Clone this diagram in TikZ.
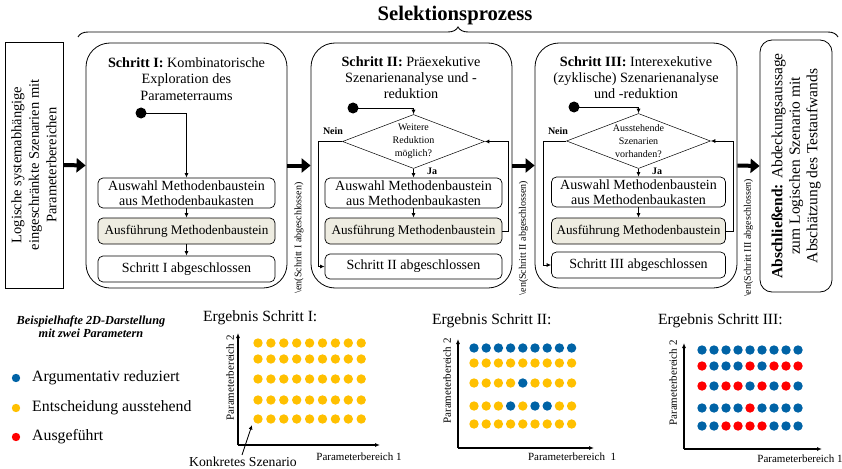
\documentclass[tikz,border=0pt]{standalone}
\usepackage{fontspec}
\setmainfont{Liberation Serif}
\usetikzlibrary{arrows.meta,shapes.geometric,decorations.pathreplacing,calc}

\definecolor{dotblue}{RGB}{0,99,166}
\definecolor{dotyellow}{RGB}{255,192,0}
\definecolor{dotred}{RGB}{255,0,0}
\definecolor{execfill}{RGB}{238,236,225}

\tikzset{
  stepframe/.style={draw, line width=0.8pt, rounded corners=24pt,
    minimum width=201pt, minimum height=245pt, inner sep=0pt},
  procbox/.style={draw, line width=0.7pt, rounded corners=5pt, align=center,
    inner sep=0pt, font=\fontsize{14}{14.5}\selectfont},
  execbox/.style={procbox, fill=execfill, font=\fontsize{13.2}{13.5}\selectfont},
  decision/.style={draw, line width=0.5pt, shape=diamond, inner sep=0pt,
    minimum width=142pt, minimum height=54pt},
  dectext/.style={align=center, inner sep=0pt, font=\fontsize{10}{13}\selectfont},
  flow/.style={line width=0.8pt, -{Latex[length=4.5pt,width=4pt]}},
  bigarrow/.style={line width=4pt, -{Triangle[length=9pt,width=14pt]}},
  sidelabel/.style={rotate=90, inner sep=0pt, font=\fontsize{10}{10}\selectfont},
  branch/.style={inner sep=0pt, font=\fontsize{10}{10}\selectfont\bfseries},
  steptitle/.style={align=center, inner sep=0pt, font=\fontsize{14.2}{16.2}\selectfont},
  axis/.style={line width=1.1pt, -{Latex[length=5pt,width=4pt]}},
  axislabel/.style={inner sep=0pt, font=\fontsize{11}{11}\selectfont},
  plottitle/.style={inner sep=0pt, anchor=west, font=\fontsize{15.6}{15.6}\selectfont},
  legendtext/.style={inner sep=0pt, anchor=west, font=\fontsize{15.8}{15.8}\selectfont},
}

\begin{document}
\begin{tikzpicture}[x=1pt,y=-1pt]
\useasboundingbox (0,0) rectangle (842,468);

% ---------- heading and brace ----------
\node[inner sep=0pt, font=\fontsize{20.7}{20.7}\selectfont\bfseries] (head) at (455,16) {Selektionsprozess};
\coordinate (braceL) at (78,37);
\coordinate (braceR) at (838,37);
\draw[line width=0.9pt, decorate, decoration={brace, amplitude=10pt}] (braceL) -- (braceR);

% ---------- input and output boxes ----------
\node[draw, line width=0.8pt, minimum width=58pt, minimum height=246pt, inner sep=0pt] (lb) at (34,165) {};
\node[rotate=90, align=center, inner sep=0pt, font=\fontsize{14.5}{17.5}\selectfont] (lbt) at (lb.center)
  {Logische systemabhängige\\eingeschränkte Szenarien mit\\Parameterbereichen};

\node[draw, line width=0.8pt, rounded corners=12pt, minimum width=72pt, minimum height=252pt, inner sep=0pt] (rb) at (796,166) {};
\node[rotate=90, align=center, inner sep=0pt, font=\fontsize{15.5}{17.5}\selectfont] (rbt) at (rb.center)
  {\textbf{Abschließend:} Abdeckungsaussage\\zum Logischen Szenario mit\\Abschätzung des Testaufwands};

% ---------- step frames ----------
\node[stepframe] (s1) at (186.5,165.5) {};
\node[stepframe] (s2) at (411.5,165.5) {};
\node[stepframe, minimum width=202pt] (s3) at (636,165.5) {};

\node[steptitle] (t1) at (186.5,79) {\textbf{Schritt I:} Kombinatorische\\Exploration des\\Parameterraums};
\node[steptitle] (t2) at (411,77.5) {\textbf{Schritt II:} Präexekutive\\Szenarienanalyse und -\\reduktion};
\node[steptitle] (t3) at (636,77.5) {\textbf{Schritt III:} Interexekutive\\(zyklische) Szenarienanalyse\\und -reduktion};

% ---------- step I ----------
\node[procbox, minimum width=177pt, minimum height=30pt] (a1) at (186.5,193) {Auswahl Methodenbaustein\\aus Methodenbaukasten};
\node[execbox, minimum width=177pt, minimum height=26pt] (e1) at (186.5,231) {Ausführung Methodenbaustein};
\node[procbox, minimum width=177pt, minimum height=26pt] (f1) at (186.5,269) {Schritt I abgeschlossen};
\coordinate (st1) at (141,113);
\fill (st1) circle (5.5pt);
\draw[flow] (st1) -| (a1.north);
\draw[flow] (a1) -- (e1);
\draw[flow] (e1) -- (f1);

% ---------- step II ----------
\node[decision] (d2) at (413.5,141.5) {};
\node[dectext] (d2t) at (d2.center) {Weitere\\Reduktion\\möglich?};
\node[procbox, minimum width=177pt, minimum height=30pt] (a2) at (413.5,193) {Auswahl Methodenbaustein\\aus Methodenbaukasten};
\node[execbox, minimum width=177pt, minimum height=26pt] (e2) at (413.5,231) {Ausführung Methodenbaustein};
\node[procbox, minimum width=177pt, minimum height=25pt] (f2) at (413.5,266.5) {Schritt II abgeschlossen};
\coordinate (st2) at (353,108);
\fill (st2) circle (5.5pt);
\draw[flow] (st2) -| (d2.north);
\draw[flow] (d2.south) -- (a2.north);
\draw[flow] (a2) -- (e2);
\draw[flow] (d2.west) -- ++(-24,0) |- (f2.west);
\draw[flow] (e2.east) -- ++(6,0) |- (d2.east);
\node[branch] (n2) at (333,131) {Nein};
\node[branch] (j2) at (432,171) {Ja};

% ---------- step III ----------
\node[decision, minimum width=144pt, minimum height=55pt] (d3) at (638.5,141) {};
\node[dectext] (d3t) at (d3.center) {Ausstehende\\Szenarien\\vorhanden?};
\node[procbox, minimum width=174pt, minimum height=30pt] (a3) at (638.5,192) {Auswahl Methodenbaustein\\aus Methodenbaukasten};
\node[execbox, minimum width=174pt, minimum height=26pt] (e3) at (638.5,231) {Ausführung Methodenbaustein};
\node[procbox, minimum width=174pt, minimum height=26pt] (f3) at (638.5,265) {Schritt III abgeschlossen};
\coordinate (st3) at (574,107);
\fill (st3) circle (5.5pt);
\draw[flow] (st3) -| (d3.north);
\draw[flow] (d3.south) -- (a3.north);
\draw[flow] (a3) -- (e3);
\draw[flow] (d3.west) -- ++(-23,0) |- (f3.west);
\draw[flow] (e3.east) -- ++(8,0) |- (d3.east);
\node[branch] (n3) at (558,131) {Nein};
\node[branch] (j3) at (657,171) {Ja};

% ---------- transitions between stages ----------
\draw[bigarrow] (lb.east) -- (s1.west);
\draw[bigarrow] (s1.east) -- (s2.west);
\draw[bigarrow] (s2.east) -- (s3.west);
\draw[bigarrow] (s3.east) -- (rb.west);
\node[sidelabel] (g1) at (299,238) {\textbackslash en(Schritt I abgeschlossen)};
\node[sidelabel] (g2) at (523.5,238) {\textbackslash en(Schritt II abgeschlossen)};
\node[sidelabel] (g3) at (748.5,238) {\textbackslash en(Schritt III abgeschlossen)};

% ---------- legend ----------
\node[align=center, inner sep=0pt, font=\fontsize{12.3}{13}\selectfont\bfseries\itshape] (ex) at (91,327)
  {Beispielhafte 2D-Darstellung\\mit zwei Parametern};
\fill[dotblue] (16,378) circle (4.2pt);
\fill[dotyellow] (16,408) circle (4.2pt);
\fill[dotred] (16,437) circle (4.2pt);
\node[legendtext] (lg1) at (32,378) {Argumentativ reduziert};
\node[legendtext] (lg2) at (32,408) {Entscheidung ausstehend};
\node[legendtext] (lg3) at (32,437) {Ausgeführt};

% ---------- result plot I ----------
\node[plottitle] (p1) at (203,318) {Ergebnis Schritt I:};
\coordinate (o1) at (238,445);
\coordinate (y1) at (238,333);
\coordinate (x1) at (380,445);
\draw[axis] (o1) -- (y1);
\draw[axis] (o1) -- (x1);
\node[axislabel, rotate=90] (yl1) at (230,378) {Parameterbereich 2};
\node[axislabel] (xl1) at (359,457) {Parameterbereich 1};
\foreach \y in {343,359,379,400,419}
  \foreach \i in {0,...,8}
    \fill[dotyellow] (258+\i*12.9,\y) circle (4.7pt);
\node[inner sep=0pt, font=\fontsize{13.7}{13.7}\selectfont] (ks) at (243,462) {Konkretes Szenario};
\coordinate (ksdot) at (252,425);
\draw[line width=0.8pt, -{Latex[length=4.5pt,width=4pt]}] (ks.north) ++(-1,-2) -- (ksdot);

% ---------- result plot II ----------
\node[plottitle] (p2) at (432,321) {Ergebnis Schritt II:};
\coordinate (o2) at (458,448);
\coordinate (y2) at (458,339);
\coordinate (x2) at (594,448);
\draw[axis] (o2) -- (y2);
\draw[axis] (o2) -- (x2);
\node[axislabel, rotate=90] (yl2) at (447,381) {Parameterbereich 2};
\node[axislabel] (xl2) at (572,457) {Parameterbereich\ \ 1};
\foreach \y/\cols in {
    348/{dotblue,dotblue,dotblue,dotblue,dotblue,dotblue,dotblue,dotblue,dotblue},
    363/{dotyellow,dotyellow,dotyellow,dotyellow,dotyellow,dotyellow,dotyellow,dotyellow,dotyellow},
    383/{dotyellow,dotyellow,dotyellow,dotyellow,dotblue,dotyellow,dotyellow,dotyellow,dotyellow},
    406/{dotyellow,dotyellow,dotyellow,dotblue,dotyellow,dotblue,dotblue,dotyellow,dotyellow},
    424/{dotyellow,dotyellow,dotyellow,dotyellow,dotyellow,dotyellow,dotyellow,dotyellow,dotyellow}}
  \foreach \c [count=\i from 0] in \cols
    \fill[\c] (474+\i*12.2,\y) circle (4.7pt);

% ---------- result plot III ----------
\node[plottitle] (p3) at (658,321) {Ergebnis Schritt III:};
\coordinate (o3) at (684,449);
\coordinate (y3) at (684,343);
\coordinate (x3) at (822,449);
\draw[axis] (o3) -- (y3);
\draw[axis] (o3) -- (x3);
\node[axislabel, rotate=90] (yl3) at (673,383) {Parameterbereich 2};
\node[axislabel] (xl3) at (800,459) {Parameterbereich 1};
\foreach \y/\cols in {
    350/{dotblue,dotblue,dotblue,dotblue,dotblue,dotblue,dotblue,dotblue,dotblue},
    366/{dotred,dotblue,dotblue,dotblue,dotred,dotblue,dotred,dotred,dotred},
    386/{dotred,dotblue,dotred,dotred,dotblue,dotred,dotblue,dotred,dotblue},
    408/{dotblue,dotblue,dotblue,dotblue,dotred,dotblue,dotblue,dotblue,dotblue},
    426/{dotblue,dotblue,dotred,dotred,dotred,dotred,dotblue,dotblue,dotblue}}
  \foreach \c [count=\i from 0] in \cols
    \fill[\c] (702+\i*12,\y) circle (4.7pt);

\end{tikzpicture}
\end{document}
